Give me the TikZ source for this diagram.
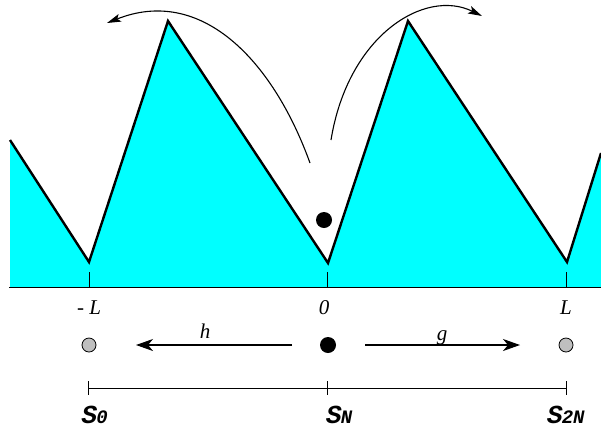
\documentclass[tikz,border=0pt]{standalone}
\usepackage{fontspec}
\setmainfont{Liberation Serif}
\newfontfamily\slabfont{Liberation Mono}
\usetikzlibrary{arrows.meta}
\definecolor{aqua}{RGB}{0,255,255}
\newcommand{\bigS}{{\slabfont\bfseries\itshape\fontsize{26}{28}\selectfont S}}
\newcommand{\smallsub}[1]{{\slabfont\bfseries\itshape\fontsize{19}{21}\selectfont #1}}
\begin{document}
\begin{tikzpicture}[x=1pt,y=-1pt,
  outline/.style={line width=2.4pt, line join=miter},
  lbl/.style={font=\fontsize{21}{23}\selectfont\itshape, inner sep=0, anchor=base},
  slbl/.style={inner sep=0, anchor=base west},
  curvearrow/.style={line width=1.1pt, -{Stealth[length=14pt,width=8pt,inset=3pt]}},
  flatarrow/.style={line width=1.1pt, -{Stealth[length=17pt,width=12pt,inset=5pt]}},
  graydot/.style={circle, draw=black, fill=black!25, line width=0.8pt, minimum size=14pt, inner sep=0},
  blackdot/.style={circle, fill=black, minimum size=16pt, inner sep=0},
  tickline/.style={line width=1pt}]
\useasboundingbox (0,0) rectangle (601,432);
% terrain
\fill[aqua] (10,140) -- (89,262) -- (168,21) -- (328,263) -- (408,21) -- (567,262) -- (601,153) -- (601,287) -- (10,287) -- cycle;
\draw[outline] (10,140) -- (89,262) -- (168,21) -- (328,263) -- (408,21) -- (567,262) -- (601,153);
\draw[line width=0.8pt] (9,287) -- (601,287);
% ticks on base
\draw[tickline] (89,272) -- (89,288);
\draw[tickline] (327,272) -- (327,288);
\draw[tickline] (566,272) -- (566,288);
% labels
\node[lbl] (lm) at (89,314) {- L};
\node[lbl] (l0) at (324,314) {0};
\node[lbl] (lp) at (566,314) {L};
% particle
\node[blackdot] (p) at (324,220) {};
% curved arrows
\coordinate (la0) at (310,163);
\coordinate (la1) at (107,23);
\coordinate (ra0) at (331,140);
\coordinate (ra1) at (482,16);
\draw[curvearrow] (la0) .. controls (272,58) and (200,-14) .. (la1);
\draw[curvearrow] (ra0) .. controls (348,35) and (425,-12) .. (ra1);
% row of dots
\node[graydot] (dl) at (89,345) {};
\node[blackdot] (dc) at (328,345) {};
\node[graydot] (dr) at (566,345) {};
\coordinate (hs) at (292,345);
\coordinate (he) at (136,345);
\coordinate (gs) at (365,345);
\coordinate (ge) at (520,345);
\draw[flatarrow] (hs) -- (he);
\draw[flatarrow] (gs) -- (ge);
\node[lbl] (h) at (205,338) {h};
\node[lbl] (g) at (442,340) {g};
% scale bar
\coordinate (s0) at (88,388);
\coordinate (sn) at (327,388);
\coordinate (s2n) at (566,388);
\draw[line width=1pt] (s0) -- (s2n);
\draw[tickline] (88,381) -- (88,395);
\draw[tickline] (327,381) -- (327,395);
\draw[tickline] (566,381) -- (566,395);
\node[slbl] (t0) at (81.5,423) {\bigS\kern-1pt\smallsub{0}};
\node[slbl] (tn) at (326,423) {\bigS\kern-1pt\smallsub{N}};
\node[slbl] (t2n) at (547,423) {\bigS\kern-1pt\smallsub{2N}};
\end{tikzpicture}
\end{document}
